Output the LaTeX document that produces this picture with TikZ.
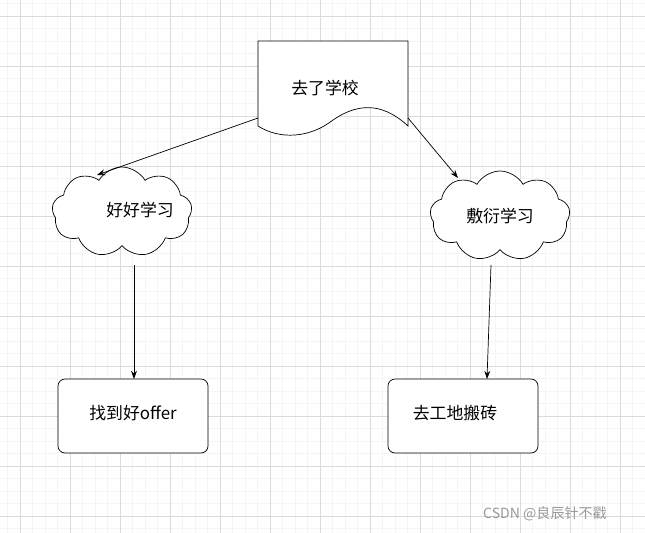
\documentclass[tikz,border=0pt]{standalone}
\usepackage{fontspec}
\setmainfont{Noto Sans CJK SC}
\usetikzlibrary{shapes.symbols, arrows.meta}

\begin{document}
\begin{tikzpicture}[x=0.03cm, y=-0.03cm, >={Stealth[length=7pt,width=5pt]},
	cloudbox/.style={cloud, draw, cloud puffs=9, cloud puff arc=120, aspect=1.5, minimum width=140*0.03cm, minimum height=90*0.03cm, fill=white, semithick},
	endbox/.style={draw, rounded corners=6pt, minimum width=150*0.03cm, minimum height=74*0.03cm, fill=white, semithick},
	label/.style={font=\Large},
	line/.style={->, semithick}]
	\def \gridx{20}
	\def \gridy{16}
	\useasboundingbox (0,0) rectangle (645,533);
	% grid
	\fill[white] (0,0) rectangle (645,533);
	\foreach \k in {-2,...,52} {
		\draw[black!4] ({\gridx+12.5*\k},0) -- ({\gridx+12.5*\k},533);
		\draw[black!4] (0,{\gridy+12.5*\k}) -- (645,{\gridy+12.5*\k});
	}
	\foreach \k in {0,...,12} {
		\draw[black!14] ({\gridx+50*\k},0) -- ({\gridx+50*\k},533);
		\draw[black!14] (0,{\gridy+50*\k}) -- (645,{\gridy+50*\k});
	}
	% document shape
	\draw[fill=white, semithick] (258,41) -- (408,41) -- (408,126)
		.. controls (380,100) and (355,105) .. (333,120)
		.. controls (310,138) and (280,140) .. (258,126) -- cycle;
	\node[label] (school) at (325,88) {去了学校};
	\coordinate (schoolL) at (258,118);
	\coordinate (schoolR) at (408,118);
	% clouds
	\node[cloudbox] (study) at (122,212) {};
	\node[label] at (140,210) {好好学习};
	\node[cloudbox] (lazy) at (500,216) {};
	\node[label] at (500,216) {敷衍学习};
	\coordinate (studyIn) at (97,175);
	\coordinate (lazyIn) at (458,178);
	\coordinate (studyOut) at (134,265);
	\coordinate (lazyOut) at (491,265);
	% results
	\node[endbox] (offer) at (133,416) {};
	\node[label] at (133,413) {找到好offer};
	\node[endbox] (brick) at (463,416) {};
	\node[label] at (455,413) {去工地搬砖};
	\coordinate (offerIn) at (134,379);
	\coordinate (brickIn) at (487,379);
	% arrows
	\draw[line] (schoolL) -- (studyIn);
	\draw[line] (schoolR) -- (lazyIn);
	\draw[line] (studyOut) -- (offerIn);
	\draw[line] (lazyOut) -- (brickIn);
	\node[black!40, font=\large] (mark) at (545,514) {CSDN @良辰针不戳};
\end{tikzpicture}
\end{document}
